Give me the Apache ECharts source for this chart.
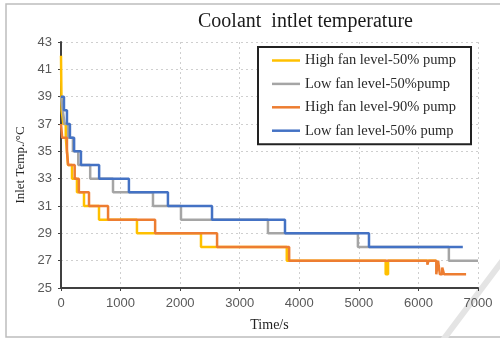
<!DOCTYPE html>
<html>
<head>
<meta charset="utf-8">
<script src="https://cdn.jsdelivr.net/npm/echarts@6/dist/echarts.min.js"></script>
<style>
  html, body { margin: 0; padding: 0; background: #fff; }
  #chart { width: 500px; height: 338px; }
</style>
</head>
<body>
<div id="chart"></div>
<script>
// step data: time (s) where each temperature level starts
var yellowT = [0, 10, 40, 80, 100, 117, 185, 268, 386, 638, 1275, 2350, 3790, 5450, 5490, 6300];
var yellowV = [42, 38, 37, 36, 35, 34, 33, 32, 31, 30, 29, 28, 27, 26, 27, 27];

var grayT = [0, 30, 60, 120, 200, 290, 490, 873, 1544, 2014, 3474, 4984, 6511, 7000];
var grayV = [39, 38, 37, 36, 35, 34, 33, 32, 31, 30, 29, 28, 27, 27];

var orangeT = [0, 20, 100, 120, 230, 300, 470, 790, 1580, 2620, 3830, 6150, 6170, 6300, 6330, 6360, 6400, 6430, 6800];
var orangeV = [37, 36, 35, 34, 33, 32, 31, 30, 29, 28, 27, 26.7, 27, 26, 27, 26, 26.5, 26, 26];

var blueT = [0, 50, 100, 150, 220, 335, 640, 1140, 1795, 2535, 3760, 5170, 6745];
var blueV = [39, 38, 37, 36, 35, 34, 33, 32, 31, 30, 29, 28, 28];

var names = ["High fan level-50% pump", "Low fan level-50%pump", "High fan level-90% pump", "Low fan level-50% pump"];
var colors = ["#FFC000", "#A5A5A5", "#ED7D31", "#4472C4"];

function pairs(t, v) {
  return t.map(function (x, i) { return [x, v[i]]; });
}

var seriesData = [pairs(yellowT, yellowV), pairs(grayT, grayV), pairs(orangeT, orangeV), pairs(blueT, blueV)];

var chart = echarts.init(document.getElementById("chart"));
chart.setOption({
  animation: false,
  color: colors,
  title: {
    text: "Coolant  intlet temperature",
    left: 193,
    top: 7,
    textStyle: { fontFamily: "Liberation Serif", fontSize: 20, fontWeight: "normal", color: "#1a1a1a" }
  },
  legend: {
    orient: "vertical",
    left: 258,
    top: 47,
    padding: [6, 15, 6, 14],
    itemGap: 8.4,
    itemWidth: 28,
    itemHeight: 2.5,
    icon: "rect",
    backgroundColor: "#fff",
    borderColor: "#222",
    borderWidth: 2,
    textStyle: { fontFamily: "Liberation Serif", fontSize: 14.5, color: "#2a2a2a" },
    data: names
  },
  grid: { left: 61, right: 22, top: 42, bottom: 50 },
  xAxis: {
    type: "value",
    min: 0,
    max: 7000,
    interval: 1000,
    name: "Time/s",
    nameLocation: "middle",
    nameGap: 30,
    nameTextStyle: { fontFamily: "Liberation Serif", fontSize: 14, color: "#222" },
    axisLine: { lineStyle: { color: "#404040", width: 2 } },
    axisTick: { show: true, length: 3, lineStyle: { color: "#404040" } },
    axisLabel: {
      fontFamily: "Liberation Sans", fontSize: 13, color: "#595959", margin: 9,
      formatter: function (v) { return String(v); }
    },
    splitLine: { show: true, lineStyle: { color: "#cfcfcf", type: [2, 3], width: 1 } }
  },
  yAxis: {
    type: "value",
    min: 25,
    max: 43,
    interval: 2,
    name: "Inlet Temp./°C",
    nameLocation: "middle",
    nameGap: 28,
    nameTextStyle: { fontFamily: "Liberation Serif", fontSize: 13, color: "#222" },
    axisLine: { show: true, lineStyle: { color: "#404040", width: 2 } },
    axisTick: { show: true, length: 3, lineStyle: { color: "#404040" } },
    axisLabel: { fontFamily: "Liberation Sans", fontSize: 13, color: "#595959", margin: 9 },
    splitLine: { show: true, lineStyle: { color: "#cfcfcf", type: [2, 3], width: 1 } }
  },
  graphic: [
    {
      type: "rect",
      shape: { x: 6, y: 4, width: 500, height: 333 },
      style: { fill: null, stroke: "#bdbdbd", lineWidth: 1.5 },
      silent: true
    },
    {
      type: "line",
      shape: { x1: 503, y1: 260, x2: 443, y2: 340 },
      style: { stroke: "#e4e4e4", lineWidth: 6 },
      silent: true
    }
  ],
  series: names.map(function (n, i) {
    return {
      name: n,
      type: "line",
      step: "end",
      symbol: "none",
      lineStyle: { width: 2.5 },
      data: seriesData[i]
    };
  })
});
</script>
</body>
</html>
